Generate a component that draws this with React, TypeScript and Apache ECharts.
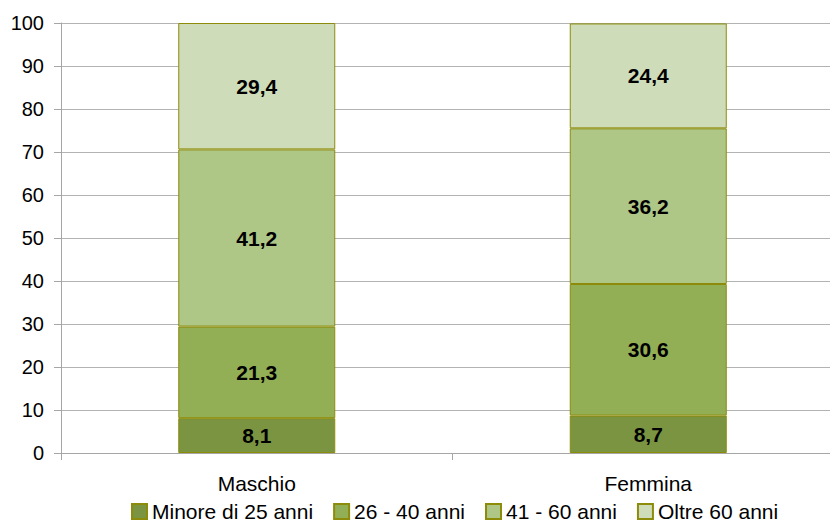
import React, { useEffect, useRef } from "react";
import * as echarts from "echarts";

const categories = ["Maschio", "Femmina"];
const seriesNames = ["Minore di 25 anni", "26 - 40 anni", "41 - 60 anni", "Oltre 60 anni"];
const under25 = [8.1, 8.7];
const age26to40 = [21.3, 30.6];
const age41to60 = [41.2, 36.2];
const over60 = [29.4, 24.4];
const colors = ["#7a9442", "#93af55", "#aec686", "#cfdcb9"];

export default function App() {
  const ref = useRef<HTMLDivElement>(null);
  useEffect(() => {
    document.body.style.margin = "0";
    const chart = echarts.init(ref.current!, null, { renderer: "svg" });
    const data = [under25, age26to40, age41to60, over60];
    chart.setOption({
      animation: false,
      textStyle: { fontFamily: "Liberation Sans, Arial, sans-serif" },
      grid: { left: 61, top: 23, width: 783, height: 430, containLabel: false, outerBoundsMode: "none" },
      legend: {
        bottom: 0,
        left: 131,
        padding: 0,
        itemWidth: 15,
        itemHeight: 15,
        itemGap: 20,
        icon: "rect",
        textStyle: { fontSize: 21, color: "#000" },
        data: seriesNames,
      },
      xAxis: {
        type: "category",
        data: categories,
        axisLine: { lineStyle: { color: "#a6a6a6" } },
        axisTick: { show: true, length: 7, lineStyle: { color: "#a6a6a6" } },
        axisLabel: { fontSize: 21, color: "#000", margin: 20 },
      },
      yAxis: {
        type: "value",
        min: 0,
        max: 100,
        interval: 10,
        axisLine: { show: true, lineStyle: { color: "#a6a6a6" } },
        axisTick: { show: true, length: 7, lineStyle: { color: "#a6a6a6" } },
        axisLabel: { fontSize: 20, color: "#000", margin: 17 },
        splitLine: { show: true, lineStyle: { color: "#b3b3b3" } },
      },
      series: data.map((d, i) => ({
        name: seriesNames[i],
        type: "bar",
        stack: "total",
        barWidth: 157,
        data: d,
        itemStyle: { color: colors[i], borderColor: "#8c8c0a", borderWidth: 1 },
        label: {
          show: true,
          position: "inside",
          fontSize: 21,
          fontWeight: "bold",
          color: "#000",
          formatter: (p: any) => String(p.value).replace(".", ","),
        },
      })),
    });
    return () => chart.dispose();
  }, []);
  return <div ref={ref} style={{ width: 830, height: 522 }} />;
}
